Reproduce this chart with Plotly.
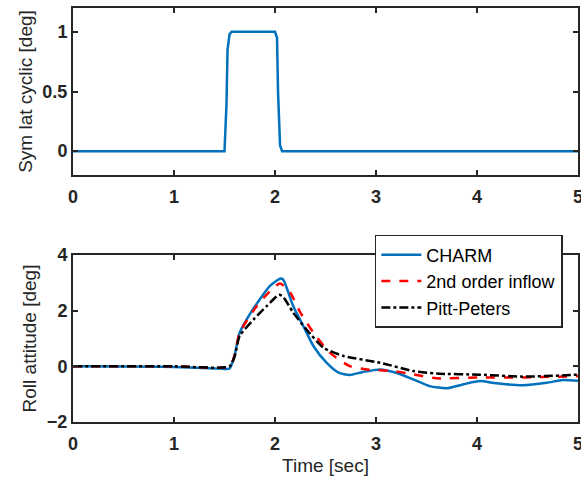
import plotly.graph_objects as go

# Top panel: symmetric lateral cyclic input
t_in = [0, 1.50, 1.52, 1.53, 1.55, 1.57, 2.00, 2.02, 2.03, 2.05, 2.07, 5.0]
cyc_in = [0, 0, 0.4, 0.85, 0.98, 1.0, 1.0, 0.95, 0.5, 0.05, 0, 0]

# Bottom panel: roll attitude
t_charm = [0, 1.0, 1.45, 1.55, 1.60, 1.65, 1.72, 1.85, 1.95, 2.05, 2.08, 2.18, 2.28, 2.38, 2.51,
           2.63, 2.74, 2.87, 3.04, 3.20, 3.37, 3.53, 3.70, 3.86, 4.03, 4.19, 4.46, 4.69, 4.85, 5.0]
roll_charm = [0, -0.02, -0.08, -0.08, 0.4, 1.21, 1.69, 2.41, 2.89, 3.15, 3.12, 2.17, 1.45, 0.73, 0.13,
              -0.23, -0.31, -0.2, -0.11, -0.23, -0.47, -0.71, -0.79, -0.65, -0.53, -0.61, -0.68, -0.59, -0.49, -0.52]

t_2nd = [0, 1.0, 1.55, 1.60, 1.65, 1.82, 1.95, 2.05, 2.15, 2.25, 2.38, 2.54, 2.74, 2.91, 3.17,
         3.37, 3.60, 4.03, 4.46, 5.0]
roll_2nd = [0, 0, 0.0, 0.4, 1.2, 2.17, 2.7, 2.98, 2.65, 1.94, 1.21, 0.5, 0.01, -0.11, -0.17,
            -0.29, -0.43, -0.4, -0.4, -0.35]

t_pp = [0, 1.0, 1.55, 1.60, 1.65, 1.79, 1.92, 2.04, 2.08, 2.18, 2.31, 2.48, 2.68, 3.04, 3.37,
        3.60, 4.03, 4.46, 5.0]
roll_pp = [0, 0, 0.0, 0.35, 1.09, 1.69, 2.17, 2.57, 2.5, 1.93, 1.33, 0.67, 0.37, 0.13, -0.17,
           -0.26, -0.3, -0.37, -0.3]

ink = "#262626"
font_main = "Liberation Sans, Arial, sans-serif"

fig = go.Figure()
fig.add_trace(go.Scatter(x=t_in, y=cyc_in, mode="lines", line=dict(color="#0072BD", width=2.5),
                         showlegend=False, xaxis="x", yaxis="y"))
fig.add_trace(go.Scatter(x=t_charm, y=roll_charm, mode="lines", name="CHARM",
                         line=dict(color="#0072BD", width=2.5, shape="spline", smoothing=0.6),
                         xaxis="x2", yaxis="y2"))
fig.add_trace(go.Scatter(x=t_2nd, y=roll_2nd, mode="lines", name="2nd order inflow",
                         line=dict(color="#FF0000", width=2.5, dash="dash", shape="spline", smoothing=0.6),
                         xaxis="x2", yaxis="y2"))
fig.add_trace(go.Scatter(x=t_pp, y=roll_pp, mode="lines", name="Pitt-Peters",
                         line=dict(color="#000000", width=2.5, dash="dashdot", shape="spline", smoothing=0.6),
                         xaxis="x2", yaxis="y2"))

axis_common = dict(showline=True, linecolor=ink, linewidth=2, mirror="ticks", ticks="inside",
                   ticklen=5, tickwidth=2, tickcolor=ink, showgrid=False, zeroline=False,
                   automargin=False, ticklabeloverflow="allow",
                   tickfont=dict(family=font_main, size=18, color=ink, weight="bold"))
title_font = dict(family=font_main, size=19, color=ink)

fig.update_layout(
    width=581, height=477,
    margin=dict(l=73, r=3, t=8, b=55),
    paper_bgcolor="white", plot_bgcolor="white",
    xaxis=dict(domain=[0, 1], range=[0, 5], tickvals=[0, 1, 2, 3, 4, 5], anchor="y",
               ticklabelstandoff=4, **axis_common),
    yaxis=dict(domain=[0.5966, 1], range=[-0.2, 1.2], tickvals=[0, 0.5, 1], anchor="x",
               title=dict(text="Sym lat cyclic [deg]", font=title_font, standoff=5),
               **axis_common),
    xaxis2=dict(domain=[0, 1], range=[0, 5], tickvals=[0, 1, 2, 3, 4, 5], anchor="y2",
                ticklabelstandoff=4,
                title=dict(text="Time [sec]", font=title_font, standoff=6),
                **axis_common),
    yaxis2=dict(domain=[0, 0.4034], range=[-2, 4], tickvals=[-2, 0, 2, 4], anchor="x2",
                title=dict(text="Roll attitude [deg]", font=title_font, standoff=5),
                **axis_common),
    legend=dict(x=0.970, y=0.4517, xanchor="right", yanchor="top", bgcolor="white",
                bordercolor=ink, borderwidth=1.5, font=dict(family=font_main, size=18, color="#000"),
                tracegroupgap=0, itemwidth=40),
    showlegend=True,
)

fig.write_html("out.html")
